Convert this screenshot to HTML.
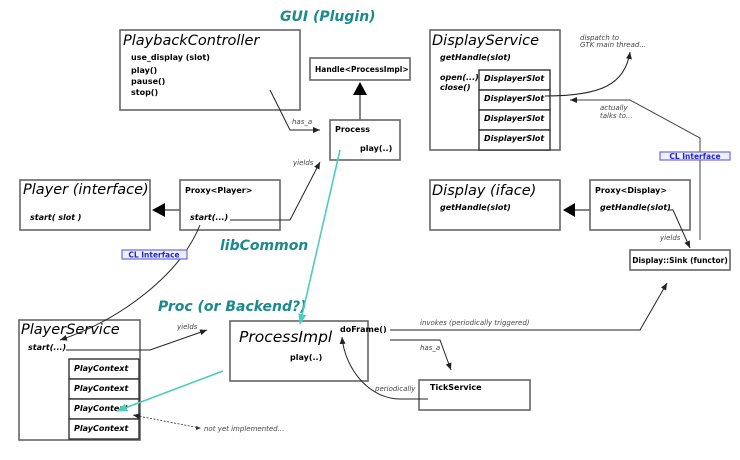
<!DOCTYPE html>
<html><head><meta charset="utf-8"><style>
html,body{margin:0;padding:0;background:#fff;}
svg{display:block;font-family:"DejaVu Sans","Liberation Sans",sans-serif;}
.b{fill:#fff;stroke:#666;stroke-width:1.6;}
.k{fill:#fff;stroke:#333;stroke-width:1.4;}
.t{font-style:italic;font-size:14.5px;fill:#000;}
.m{font-weight:bold;font-size:8px;fill:#000;}
.mi{font-weight:bold;font-style:italic;font-size:8px;fill:#000;}
.l{font-style:italic;font-size:7px;fill:#444;}
.h{font-style:italic;font-weight:bold;font-size:14px;fill:#1a8a8a;}
.c{fill:none;stroke:#222;stroke-width:1;}
.g{fill:none;stroke:#666;stroke-width:1.6;}
.q{fill:none;stroke:#4ecdb8;stroke-width:1.6;}
.cl{fill:#eef0ff;stroke:#6a6ae0;stroke-width:1.2;}
.clt{font-weight:bold;font-size:7.5px;fill:#2222cc;}
</style></head><body>
<svg width="740" height="460" viewBox="0 0 740 460" xmlns="http://www.w3.org/2000/svg">
<defs>
<marker id="a" markerWidth="8" markerHeight="8" refX="7" refY="3" orient="auto" markerUnits="userSpaceOnUse"><path d="M0,0 L7,3 L0,6 Z" fill="#222"/></marker>
<marker id="at" markerWidth="12" markerHeight="12" refX="10" refY="4" orient="auto" markerUnits="userSpaceOnUse"><path d="M0,0 L11,4 L0,8 Z" fill="#4ecdb8"/></marker>
</defs>

<text x="280" y="21" class="h">GUI (Plugin)</text>
<text x="220" y="250" class="h">libCommon</text>
<text x="158" y="311" class="h">Proc (or Backend?)</text>

<!-- PlaybackController -->
<rect x="120" y="30" width="180" height="80" class="b"/>
<text x="123" y="45" class="t">PlaybackController</text>
<text x="131" y="60" class="m">use_display (slot)</text>
<text x="131" y="73" class="m">play()</text>
<text x="131" y="84" class="m">pause()</text>
<text x="131" y="95" class="m">stop()</text>

<!-- Handle -->
<rect x="310" y="58" width="100" height="22" class="b"/>
<text x="315" y="72" class="m" style="font-size:7.5px">Handle&lt;ProcessImpl&gt;</text>
<line x1="360" y1="120" x2="360" y2="94" class="g"/>
<path d="M353,95 L367,95 L360,82 Z" fill="#000"/>

<!-- Process -->
<rect x="330" y="120" width="70" height="40" class="b"/>
<text x="335" y="132" class="m">Process</text>
<text x="360" y="151" class="m">play(..)</text>

<!-- Player -->
<rect x="20" y="180" width="130" height="50" class="b"/>
<text x="23" y="194" class="t">Player (interface)</text>
<text x="30" y="220" class="mi">start( slot )</text>

<rect x="180" y="180" width="100" height="50" class="b"/>
<text x="185" y="193" class="m">Proxy&lt;Player&gt;</text>
<text x="190" y="220" class="mi">start(...)</text>
<line x1="180" y1="210" x2="164" y2="210" class="g"/>
<path d="M165,203 L165,217 L152,210 Z" fill="#000"/>

<!-- PlayerService -->
<rect x="19" y="320" width="121" height="120" class="b"/>
<text x="21" y="334" class="t">PlayerService</text>
<text x="28" y="350" class="mi">start(...)</text>
<rect x="69" y="359" width="70" height="20" class="k"/>
<rect x="69" y="379" width="70" height="20" class="k"/>
<rect x="69" y="399" width="70" height="20" class="k"/>
<rect x="69" y="419" width="70" height="20" class="k"/>
<text x="74" y="371" class="mi">PlayContext</text>
<text x="74" y="391" class="mi">PlayContext</text>
<text x="74" y="411" class="mi">PlayContext</text>
<text x="74" y="431" class="mi">PlayContext</text>

<!-- ProcessImpl -->
<rect x="230" y="321" width="138" height="60" class="b"/>
<text x="239" y="342" class="t" style="font-size:15.5px">ProcessImpl</text>
<text x="340" y="332" class="m">doFrame()</text>
<text x="290" y="360" class="m">play(..)</text>

<rect x="419" y="380" width="111" height="30" class="b"/>
<text x="430" y="390" class="m">TickService</text>

<!-- DisplayService -->
<rect x="430" y="30" width="130" height="120" class="b"/>
<text x="432" y="45" class="t">DisplayService</text>
<text x="440" y="60" class="mi">getHandle(slot)</text>
<text x="440" y="80" class="mi">open(...)</text>
<text x="440" y="90" class="mi">close()</text>
<rect x="479" y="70" width="71" height="20" class="k"/>
<rect x="479" y="90" width="71" height="20" class="k"/>
<rect x="479" y="110" width="71" height="20" class="k"/>
<rect x="479" y="130" width="71" height="20" class="k"/>
<text x="484" y="81" class="mi">DisplayerSlot</text>
<text x="484" y="101" class="mi">DisplayerSlot</text>
<text x="484" y="121" class="mi">DisplayerSlot</text>
<text x="484" y="141" class="mi">DisplayerSlot</text>

<!-- Display -->
<rect x="430" y="180" width="130" height="50" class="b"/>
<text x="432" y="195" class="t">Display (iface)</text>
<text x="440" y="210" class="mi">getHandle(slot)</text>

<rect x="590" y="180" width="100" height="50" class="b"/>
<text x="595" y="193" class="m">Proxy&lt;Display&gt;</text>
<text x="600" y="210" class="mi">getHandle(slot)</text>
<line x1="590" y1="210" x2="574" y2="210" class="g"/>
<path d="M575,203 L575,217 L563,210 Z" fill="#000"/>

<rect x="630" y="250" width="100" height="20" class="b"/>
<text x="680" y="263" class="m" text-anchor="middle" style="font-size:7.5px">Display::Sink (functor)</text>

<!-- connectors -->
<polyline points="270,90 290,130 320,130" class="c" marker-end="url(#a)"/>
<text x="292" y="124" class="l">has_a</text>
<polyline points="230,220 290,220 320,162" class="c" marker-end="url(#a)"/>
<text x="293" y="165" class="l">yields</text>

<path d="M200,225 C180,275 120,320 60,340" class="c" marker-end="url(#a)"/>
<rect x="122" y="250" width="65" height="9" class="cl"/>
<text x="154" y="257.5" class="clt" text-anchor="middle">CL Interface</text>

<line x1="340" y1="150" x2="300" y2="324" class="q" marker-end="url(#at)"/>
<line x1="223" y1="371" x2="117" y2="411" class="q" marker-end="url(#at)"/>

<polyline points="66,350 150,350 207,330" class="c" marker-end="url(#a)"/>
<text x="177" y="329" class="l">yields</text>

<line x1="200" y1="428" x2="133" y2="415" stroke="#333" stroke-width="0.8" stroke-dasharray="2,1.5" marker-end="url(#a)"/>
<path d="M196,426 L201,428 L196,430Z" fill="#333"/>
<text x="204" y="431" class="l">not yet implemented...</text>

<polyline points="390,330 640,330 667,283" class="c" marker-end="url(#a)"/>
<text x="420" y="325" class="l">invokes (periodically triggered)</text>
<polyline points="390,340 440,340 451,370" class="c" marker-end="url(#a)"/>
<text x="420" y="350" class="l">has_a</text>
<path d="M428,399 L400,399 C370,399 345,370 342,337" class="c" marker-end="url(#a)"/>
<text x="375" y="391" class="l">periodically</text>

<path d="M545,96 C600,96 625,85 630,52" class="c" marker-end="url(#a)"/>
<text x="580" y="40" class="l">dispatch to</text>
<text x="580" y="47" class="l">GTK main thread...</text>

<polyline points="700,240 700,138 630,100 570,100" class="c" style="stroke:#444" marker-end="url(#a)"/>
<text x="600" y="110" class="l">actually</text>
<text x="600" y="118" class="l">talks to...</text>
<rect x="660" y="152" width="70" height="8" class="cl"/>
<text x="695" y="159" class="clt" text-anchor="middle">CL Interface</text>

<polyline points="668,210 673,210 690,248" class="c" marker-end="url(#a)"/>
<text x="660" y="240" class="l">yields</text>
</svg>
</body></html>
